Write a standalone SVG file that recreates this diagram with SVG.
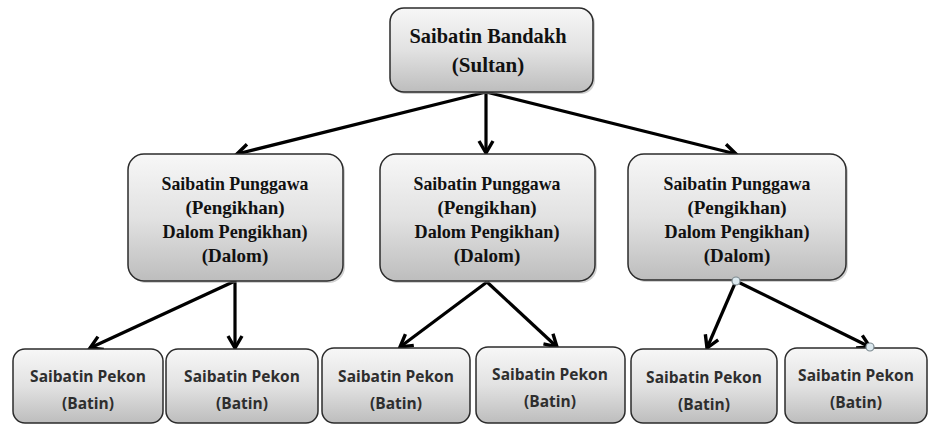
<svg xmlns="http://www.w3.org/2000/svg" width="929" height="425" viewBox="0 0 929 425">
<defs>
<linearGradient id="g" x1="0" y1="0" x2="0" y2="1">
<stop offset="0" stop-color="#f7f7f7"/>
<stop offset="0.5" stop-color="#e2e2e2"/>
<stop offset="1" stop-color="#bdbdbd"/>
</linearGradient>
<marker id="arr" markerUnits="userSpaceOnUse" markerWidth="18" markerHeight="18" viewBox="0 0 18 18" refX="15" refY="9" orient="auto">
<path d="M3,2 L15,9 L3,16" fill="none" stroke="#000" stroke-width="3.4" stroke-linejoin="miter"/>
</marker>
<style>
.box{fill:url(#g);stroke:#2b2b2b;stroke-width:1.5}
.sh{fill:#999;opacity:0.45}
.ser{font-family:"Liberation Serif","Times New Roman",serif;font-weight:bold;fill:#111;text-anchor:middle}
.t1{font-size:21px}
.t2{font-size:19px}
.san{font-family:"Open Sans","Liberation Sans",Arial,sans-serif;font-weight:bold;font-size:15.5px;fill:#2e2e2e;text-anchor:middle}
.con{stroke:#000;stroke-width:3.2;fill:none;marker-end:url(#arr)}
.dot{fill:#dce9ef;stroke:#7d8a90;stroke-width:1.2}
</style>
</defs>
<g id="connectors">
<line class="con" x1="486" y1="92" x2="237" y2="154"/>
<line class="con" x1="486" y1="92" x2="486" y2="153"/>
<line class="con" x1="486" y1="92" x2="736" y2="154"/>
<line class="con" x1="235" y1="281" x2="90" y2="348"/>
<line class="con" x1="235" y1="281" x2="235" y2="348"/>
<line class="con" x1="487" y1="282" x2="400" y2="347"/>
<line class="con" x1="487" y1="282" x2="557" y2="347"/>
<line class="con" x1="736" y1="281" x2="707" y2="348"/>
<line class="con" x1="736" y1="281" x2="870" y2="347"/>
</g>
<g id="sultan">
<rect class="sh" x="392" y="10" width="203" height="84" rx="14"/>
<rect class="box" x="390" y="8" width="203" height="84" rx="14"/>
<text class="ser t1" x="488" y="43" textLength="157" lengthAdjust="spacingAndGlyphs">Saibatin Bandakh</text>
<text class="ser t1" x="488" y="72">(Sultan)</text>
</g>
<g id="punggawa1">
<rect class="sh" x="130" y="156" width="215" height="127" rx="16"/>
<rect class="box" x="128" y="154" width="215" height="127" rx="16"/>
<text class="ser t2" x="235" y="190" textLength="147" lengthAdjust="spacingAndGlyphs">Saibatin Punggawa</text>
<text class="ser t2" x="235" y="214">(Pengikhan)</text>
<text class="ser t2" x="235" y="238" textLength="145" lengthAdjust="spacingAndGlyphs">Dalom Pengikhan)</text>
<text class="ser t2" x="235" y="262">(Dalom)</text>
</g>
<g id="punggawa2">
<rect class="sh" x="382" y="156" width="215" height="127" rx="16"/>
<rect class="box" x="380" y="154" width="215" height="127" rx="16"/>
<text class="ser t2" x="487" y="190" textLength="147" lengthAdjust="spacingAndGlyphs">Saibatin Punggawa</text>
<text class="ser t2" x="487" y="214">(Pengikhan)</text>
<text class="ser t2" x="487" y="238" textLength="145" lengthAdjust="spacingAndGlyphs">Dalom Pengikhan)</text>
<text class="ser t2" x="487" y="262">(Dalom)</text>
</g>
<g id="punggawa3">
<rect class="sh" x="630" y="156" width="218" height="126" rx="16"/>
<rect class="box" x="628" y="154" width="218" height="126" rx="16"/>
<text class="ser t2" x="737" y="190" textLength="147" lengthAdjust="spacingAndGlyphs">Saibatin Punggawa</text>
<text class="ser t2" x="737" y="214">(Pengikhan)</text>
<text class="ser t2" x="737" y="238" textLength="145" lengthAdjust="spacingAndGlyphs">Dalom Pengikhan)</text>
<text class="ser t2" x="737" y="262">(Dalom)</text>
</g>
<g id="pekon1">
<rect class="box" x="13" y="349" width="150" height="74" rx="12"/>
<text class="san" x="88" y="382">Saibatin Pekon</text>
<text class="san" x="88" y="409">(Batin)</text>
</g>
<g id="pekon2">
<rect class="box" x="166" y="349" width="152" height="74" rx="12"/>
<text class="san" x="242" y="382">Saibatin Pekon</text>
<text class="san" x="242" y="409">(Batin)</text>
</g>
<g id="pekon3">
<rect class="box" x="322" y="348" width="148" height="75" rx="12"/>
<text class="san" x="396" y="382">Saibatin Pekon</text>
<text class="san" x="396" y="409">(Batin)</text>
</g>
<g id="pekon4">
<rect class="box" x="476" y="347" width="149" height="76" rx="12"/>
<text class="san" x="550" y="380">Saibatin Pekon</text>
<text class="san" x="550" y="407">(Batin)</text>
</g>
<g id="pekon5">
<rect class="box" x="631" y="349" width="146" height="74" rx="12"/>
<text class="san" x="704" y="383">Saibatin Pekon</text>
<text class="san" x="704" y="410">(Batin)</text>
</g>
<g id="pekon6">
<rect class="box" x="785" y="348" width="142" height="75" rx="12"/>
<text class="san" x="856" y="381">Saibatin Pekon</text>
<text class="san" x="856" y="408">(Batin)</text>
</g>
<g id="handles">
<circle class="dot" cx="736" cy="281" r="4"/>
<circle class="dot" cx="870" cy="347" r="4"/>
</g>
</svg>
